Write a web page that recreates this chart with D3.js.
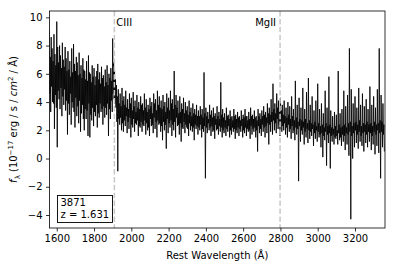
<!DOCTYPE html>
<html lang="en">
<head>
<meta charset="UTF-8" />
<title>Spectrum 3871</title>
<script src="https://d3js.org/d3.v7.min.js"></script>
<style>
  body { margin: 0; background: #fff; }
  text { font-family: "DejaVu Sans", sans-serif; }
</style>
</head>
<body>
<script>
// rest wavelength grid (Å), one sample every 2.5 Å
var waveStart = 1560, waveStep = 2.5;
// flux (1e-17 erg/s/cm2/Å), 100 Å per row
var flux = [
  9.1, 4.6, 7.2, 3.3, 8.6, 5.1, 7.8, 4.0, 6.9, 3.9, 8.8, 2.1, 7.4, 4.5, 6.6, 3.6, 9.7, 0.8, 7.9, 4.8,
  6.8, 4.2, 8.0, 3.5, 7.3, 5.0, 6.4, 3.0, 8.2, 4.4, 7.0, 3.8, 6.5, 4.9, 7.9, 3.4, 7.1, 4.1, 6.2, 1.7,
  7.6, 3.9, 6.3, 3.1, 6.9, 4.6, 5.8, 2.4, 7.8, 4.0, 6.1, 3.6, 8.1, 3.3, 6.7, 2.2, 6.2, 4.3, 7.2, 3.0,
  6.8, 3.7, 5.9, 2.5, 7.5, 4.1, 6.0, 1.9, 6.6, 3.2, 5.7, 3.8, 7.1, 2.8, 6.3, 2.0, 6.2, 3.5, 5.6, 2.8,
  6.9, 3.4, 5.5, 1.6, 7.3, 3.9, 6.1, 1.5, 6.0, 3.1, 5.4, 2.7, 6.6, 3.6, 5.8, 2.3, 6.4, 3.3, 5.2, 3.0,
  5.8, 3.8, 6.2, 2.2, 6.7, 3.2, 5.6, 2.9, 6.1, 3.9, 5.3, 3.3, 6.5, 3.5, 5.7, 2.4, 5.9, 3.7, 5.1, 2.9,
  6.3, 3.6, 5.4, 3.1, 6.6, 3.9, 5.2, 1.6, 6.0, 3.5, 5.7, 2.8, 6.4, 4.1, 5.5, 3.3, 8.5, 4.6, 6.8, 4.2,
  6.3, 3.9, 5.6, 3.6, 5.2, 2.6, 4.4, -0.9, 4.9, 2.8, 3.9, 2.4, 4.6, 2.9, 3.7, 2.0, 5.0, 2.5, 4.1, 1.9,
  4.4, 2.7, 3.8, 2.3, 4.8, 3.0, 3.6, 1.8, 4.2, 2.6, 3.5, 2.1, 4.6, 2.9, 3.9, 1.5, 4.3, 2.4, 3.4, 2.2,
  4.7, 2.8, 3.7, 1.9, 4.1, 2.5, 3.3, 2.4, 4.5, 2.7, 3.6, 1.6, 4.0, 2.3, 3.5, 2.2, 4.4, 2.6, 3.8, 1.9,
  3.9, 2.4, 3.4, 2.3, 4.6, 2.7, 3.6, 1.7, 4.2, 2.5, 3.3, 2.0, 3.8, 2.2, 3.5, 1.6, 4.3, 2.8, 3.7, 2.3,
  4.0, 2.4, 3.2, 1.8, 4.6, 2.9, 3.9, 2.1, 4.2, 2.6, 3.4, 1.5, 4.8, 2.7, 3.8, 2.4, 4.4, 2.5, 3.6, 1.9,
  4.1, 2.3, 3.5, 1.3, 4.5, 2.6, 3.7, 2.0, 4.0, 2.4, 3.3, 0.7, 4.6, 2.8, 3.6, 1.8, 4.3, 2.5, 3.4, 2.2,
  4.8, 2.7, 3.9, 1.6, 4.2, 2.4, 3.5, 2.0, 6.2, 2.6, 3.8, 1.5, 4.5, 2.9, 3.6, 2.3, 4.1, 2.4, 3.2, 1.7,
  4.4, 2.5, 3.3, 1.2, 3.9, 2.2, 3.5, 2.1, 4.3, 2.6, 3.2, 1.8, 4.0, 2.4, 3.4, 2.2, 3.7, 2.1, 3.1, 1.6,
  4.1, 2.5, 3.3, 2.0, 3.6, 2.3, 3.0, 1.9, 3.9, 2.2, 3.2, 1.3, 3.5, 2.4, 3.1, 2.1, 3.8, 2.3, 3.0, 1.7,
  3.4, 2.2, 3.0, 2.0, 3.7, 2.4, 3.1, 1.5, 3.5, 2.1, 2.9, 1.9, 6.1, 2.3, 3.2, -1.4, 3.6, 2.2, 3.0, 1.8,
  3.3, 2.5, 2.8, 2.0, 3.8, 2.2, 3.1, 1.6, 3.4, 2.3, 2.9, 1.9, 3.6, 2.0, 3.0, 1.4, 3.2, 2.4, 2.8, 2.0,
  3.7, 2.1, 3.0, 1.7, 3.3, 2.3, 2.8, 1.9, 5.4, 2.2, 3.1, 1.5, 3.5, 2.0, 2.9, 1.8, 3.2, 2.2, 2.7, 1.6,
  3.6, 2.1, 3.0, 1.9, 3.1, 2.3, 2.8, 1.5, 3.4, 2.0, 2.9, 1.7, 3.0, 2.2, 2.7, 1.9, 3.5, 2.1, 3.0, 1.4,
  3.1, 2.0, 2.8, 1.8, 3.3, 2.2, 2.9, 1.6, 3.0, 2.1, 2.7, 1.9, 3.4, 2.3, 2.8, 1.5, 3.1, 2.0, 2.9, 1.8,
  3.5, 2.2, 3.0, 1.6, 3.0, 2.1, 2.7, 1.9, 3.3, 2.0, 2.8, 1.4, 3.6, 2.3, 3.0, 1.7, 3.1, 2.1, 2.8, 1.9,
  3.4, 2.2, 2.9, 1.5, 3.0, 2.0, 2.7, 0.5, 3.5, 2.3, 3.0, 1.8, 3.2, 2.1, 2.8, 1.6, 3.4, 2.4, 3.0, 1.9,
  3.7, 2.2, 3.1, 1.5, 3.3, 2.3, 2.9, 1.8, 3.9, 2.5, 3.2, 1.0, 3.6, 2.4, 3.1, 1.9, 4.2, 2.6, 3.3, 1.7,
  5.3, 2.7, 3.5, 2.0, 3.9, 2.5, 3.2, 1.8, 4.6, 2.8, 3.6, 2.1, 4.1, 2.4, 3.3, 1.6, 4.3, 2.6, 3.4, 1.9,
  3.8, 2.3, 3.1, 2.0, 4.1, 2.5, 3.0, 1.7, 3.6, 2.2, 2.9, 1.5, 4.0, 2.4, 3.1, 1.9, 3.7, 2.1, 2.8, 1.4,
  4.4, 2.3, 3.0, 1.8, 3.5, 2.0, 2.7, 1.3, 5.5, 2.2, 2.9, 1.7, 3.8, 2.1, 2.6, -1.6, 4.3, 2.3, 2.8, 1.2,
  3.6, 2.0, 2.7, 1.7, 5.0, 2.2, 2.6, 1.0, 3.5, 1.9, 2.8, 1.5, 4.7, 2.1, 2.5, 1.1, 5.7, 2.0, 2.7, 1.4,
  3.8, 1.9, 2.5, 1.6, 4.4, 2.1, 2.4, 0.9, 3.4, 1.8, 2.6, 1.4, 4.1, 2.0, 2.3, 1.2, 5.3, 1.9, 2.5, 1.5,
  3.5, 1.7, 2.3, 0.8, 3.9, 1.8, 2.4, 0.1, 3.2, 1.6, 2.2, 1.3, 4.8, 1.9, 2.5, -0.5, 3.6, 1.7, 2.3, 1.1,
  5.8, 1.8, 2.4, -0.7, 3.4, 1.6, 2.2, 1.2, 3.0, 1.7, 2.1, 1.0, 3.3, 1.5, 2.3, 1.4, 3.1, 1.6, 2.0, 1.0,
  6.2, 1.8, 2.4, 1.3, 3.2, 1.5, 2.2, 0.9, 3.5, 1.7, 2.3, 1.2, 4.8, 1.6, 2.4, 0.6, 3.7, 1.8, 2.2, 1.0,
  4.5, 1.7, 2.5, 0.2, 7.8, 1.9, 2.6, -4.3, 4.9, 1.6, 2.3, 0.0, 3.9, 1.8, 2.5, 0.8, 4.4, 2.0, 2.6, 1.1,
  3.6, 1.7, 2.4, 0.7, 5.0, 1.9, 2.7, 1.2, 3.8, 1.6, 2.3, 0.9, 4.6, 1.8, 2.5, 0.5, 3.7, 1.9, 2.4, 1.1,
  4.2, 1.7, 2.6, 0.8, 3.5, 1.9, 2.4, 1.2, 5.1, 1.8, 2.5, 0.6, 3.8, 1.6, 2.3, 1.0, 4.4, 1.9, 2.6, 0.3,
  3.6, 1.7, 2.4, 0.9, 4.9, 2.0, 2.5, 0.4, 7.8, 1.8, 2.7, -1.4, 4.5, 1.9, 2.6, 0.8, 3.9, 1.7, 2.4, 0.5
];
var lines = [
  { name: "CIII", wave: 1909 },
  { name: "MgII", wave: 2798 }
];
var xTicks = [1600, 1800, 2000, 2200, 2400, 2600, 2800, 3000, 3200];
var yTicks = [-4, -2, 0, 2, 4, 6, 8, 10];
var objId = "3871", redshift = "1.631";

var W = 394, H = 268;
var margin = { top: 11, right: 9, bottom: 40, left: 49.5 };
var width = W - margin.left - margin.right,
    height = H - margin.top - margin.bottom;

var spec = flux.map(function (f, i) { return { w: waveStart + i * waveStep, f: f }; });

var x = d3.scaleLinear().domain([1561, 3361]).range([0, width]);
var y = d3.scaleLinear().domain([-4.92, 10.45]).range([height, 0]);

var svg = d3.select("body").append("svg")
    .attr("width", W).attr("height", H);
var g = svg.append("g")
    .attr("transform", "translate(" + margin.left + "," + margin.top + ")");

g.append("clipPath").attr("id", "clip")
  .append("rect").attr("width", width).attr("height", height);

g.append("path")
    .datum(spec)
    .attr("clip-path", "url(#clip)")
    .attr("fill", "none")
    .attr("stroke", "#000")
    .attr("stroke-width", 0.85)
    .attr("d", d3.line().x(function (d) { return x(d.w); }).y(function (d) { return y(d.f); }));

// emission line markers
g.selectAll(".eline").data(lines).enter().append("line")
    .attr("x1", function (d) { return x(d.wave); })
    .attr("x2", function (d) { return x(d.wave); })
    .attr("y1", 0).attr("y2", height)
    .attr("stroke", "#c8c8c8")
    .attr("stroke-width", 1.5)
    .attr("stroke-dasharray", "5.5,2.4");

g.selectAll(".elabel").data(lines).enter().append("text")
    .attr("x", function (d, i) { return x(d.wave) + (i == 0 ? 2 : -4); })
    .attr("y", 15.3)
    .attr("text-anchor", function (d, i) { return i == 0 ? "start" : "end"; })
    .attr("font-size", 10)
    .text(function (d) { return d.name; });

// axes
var xAxis = g.append("g")
    .attr("transform", "translate(0," + height + ")")
    .call(d3.axisBottom(x).tickValues(xTicks).tickSize(3.5).tickPadding(3.5).tickFormat(d3.format("d")));
var yAxis = g.append("g")
    .call(d3.axisLeft(y).tickValues(yTicks).tickSize(3.5).tickPadding(3.5));
[xAxis, yAxis].forEach(function (a) {
  a.select(".domain").remove();
  a.selectAll("text").attr("font-size", 10).attr("font-family", "DejaVu Sans").attr("fill", "#000");
  a.selectAll("line").attr("stroke", "#000").attr("stroke-width", 0.8);
});

g.append("rect")
    .attr("width", width).attr("height", height)
    .attr("fill", "none").attr("stroke", "#000").attr("stroke-width", 0.8);

// info box
var box = g.append("g").attr("transform", "translate(" + (57.5 - margin.left) + "," + (195.5 - margin.top) + ")");
box.append("rect").attr("width", 55).attr("height", 27)
    .attr("fill", "#fff").attr("stroke", "#000").attr("stroke-width", 0.9);
box.append("text").attr("x", 3).attr("y", 10.5).attr("font-size", 10).text(objId);
box.append("text").attr("x", 3).attr("y", 22.5).attr("font-size", 10).text("z = " + redshift);

// axis labels
svg.append("text")
    .attr("x", margin.left + width / 2).attr("y", 259)
    .attr("text-anchor", "middle").attr("font-size", 10)
    .text("Rest Wavelength (Å)");

var yl = svg.append("text")
    .attr("transform", "translate(17," + (margin.top + height / 2) + ") rotate(-90)")
    .attr("text-anchor", "middle").attr("font-size", 10);
yl.append("tspan").attr("font-style", "italic").text("f");
yl.append("tspan").attr("font-size", 7).attr("dy", 2.5).text("λ");
yl.append("tspan").attr("dy", -2.5).text(" (10");
yl.append("tspan").attr("font-size", 7).attr("dy", -4).text("−17");
yl.append("tspan").attr("dy", 4).text(" erg / s / ");
yl.append("tspan").attr("font-style", "italic").text("cm");
yl.append("tspan").attr("font-size", 7).attr("dy", -4).text("2");
yl.append("tspan").attr("dy", 4).text(" / Å)");
</script>
</body>
</html>
